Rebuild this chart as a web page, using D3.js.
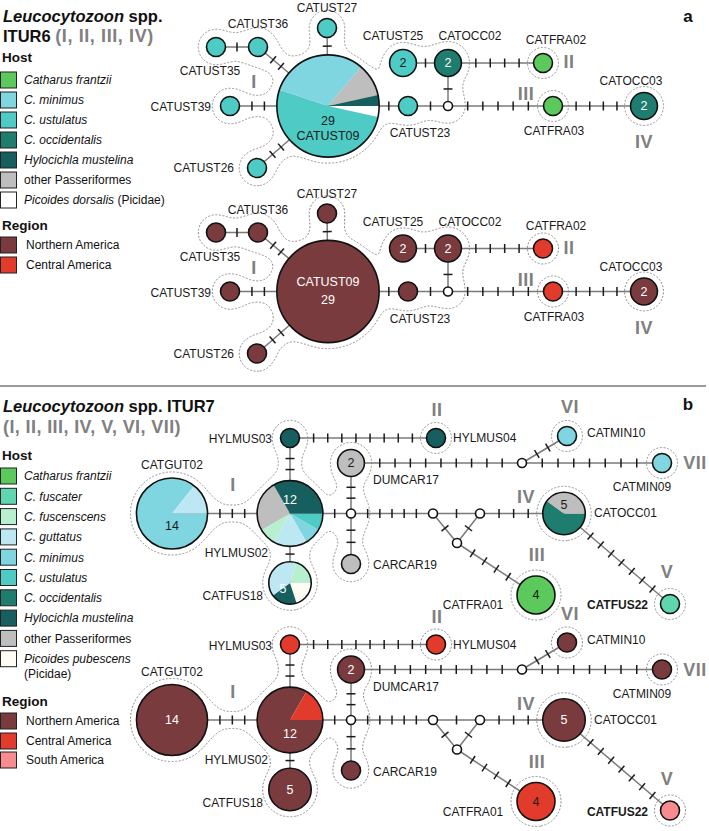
<!DOCTYPE html>
<html><head><meta charset="utf-8">
<script src="https://cdn.jsdelivr.net/npm/d3@7"></script>
<style>body{margin:0;background:#fff}svg{display:block}</style>
</head><body>
<svg id="chart" width="709" height="831"></svg>
<script>
// ================= DATA =================
const hostLegendA = ["Catharus frantzii","C. minimus","C. ustulatus","C. occidentalis","Hylocichla mustelina","other Passeriformes","Picoides dorsalis"];
const hostLegendB = ["Catharus frantzii","C. fuscater","C. fuscenscens","C. guttatus","C. minimus","C. ustulatus","C. occidentalis","Hylocichla mustelina","other Passeriformes","Picoides pubescens"];
const regionLegendA = ["Northern America","Central America"];
const regionLegendB = ["Northern America","Central America","South America"];

// ITUR6 haplotypes: sample count, host composition, region composition
const haplotypesITUR6 = [
  {id:"CATUST09", n:29, host:[["Picoides dorsalis",1],["C. ustulatus",15],["C. minimus",9],["other Passeriformes",3],["Hylocichla mustelina",1]], region:[["Northern America",29]]},
  {id:"CATUST27", n:1, host:[["C. ustulatus",1]], region:[["Northern America",1]]},
  {id:"CATUST36", n:1, host:[["C. ustulatus",1]], region:[["Northern America",1]]},
  {id:"CATUST35", n:1, host:[["C. ustulatus",1]], region:[["Northern America",1]]},
  {id:"CATUST39", n:1, host:[["C. ustulatus",1]], region:[["Northern America",1]]},
  {id:"CATUST26", n:1, host:[["C. ustulatus",1]], region:[["Northern America",1]]},
  {id:"CATUST23", n:1, host:[["C. ustulatus",1]], region:[["Northern America",1]]},
  {id:"CATUST25", n:2, host:[["C. ustulatus",2]], region:[["Northern America",2]]},
  {id:"CATOCC02", n:2, host:[["C. occidentalis",2]], region:[["Northern America",2]]},
  {id:"CATFRA02", n:1, host:[["Catharus frantzii",1]], region:[["Central America",1]]},
  {id:"CATFRA03", n:1, host:[["Catharus frantzii",1]], region:[["Central America",1]]},
  {id:"CATOCC03", n:2, host:[["C. occidentalis",2]], region:[["Northern America",2]]},
  {id:"mv6a", n:0, host:[], region:[]}
];
// edges: [from, to, number of mutation steps]
const edgesITUR6 = [["CATUST35","CATUST36",1],["CATUST36","CATUST09",2],["CATUST27","CATUST09",1],["CATUST39","CATUST09",2],["CATUST26","CATUST09",2],["CATUST09","CATUST23",1],["CATUST23","mv6a",1],["mv6a","CATOCC02",1],["CATUST25","CATOCC02",1],["CATOCC02","CATFRA02",4],["mv6a","CATFRA03",5],["CATFRA03","CATOCC03",4]];
const lineagesITUR6 = [["I",["CATUST35","CATUST36","CATUST27","CATUST09","CATUST39","CATUST26","CATUST23","mv6a","CATUST25","CATOCC02"]],["II",["CATFRA02"]],["III",["CATFRA03"]],["IV",["CATOCC03"]]];

const haplotypesITUR7 = [
  {id:"CATGUT02", n:14, host:[["C. minimus",12],["C. guttatus",2]], region:[["Northern America",14]]},
  {id:"HYLMUS02", n:12, host:[["C. ustulatus",1],["C. minimus",1],["C. guttatus",2],["C. fuscenscens",1],["other Passeriformes",3],["Hylocichla mustelina",4]], region:[["Northern America",10],["Central America",2]]},
  {id:"HYLMUS03", n:1, host:[["Hylocichla mustelina",1]], region:[["Central America",1]]},
  {id:"HYLMUS04", n:1, host:[["Hylocichla mustelina",1]], region:[["Central America",1]]},
  {id:"CATFUS18", n:5, host:[["Picoides pubescens",1],["Hylocichla mustelina",1],["C. guttatus",2],["C. fuscenscens",1]], region:[["Northern America",5]]},
  {id:"DUMCAR17", n:2, host:[["other Passeriformes",2]], region:[["Northern America",2]]},
  {id:"CARCAR19", n:1, host:[["other Passeriformes",1]], region:[["Northern America",1]]},
  {id:"CATMIN10", n:1, host:[["C. minimus",1]], region:[["Northern America",1]]},
  {id:"CATMIN09", n:1, host:[["C. minimus",1]], region:[["Northern America",1]]},
  {id:"CATOCC01", n:5, host:[["C. occidentalis",3],["other Passeriformes",2]], region:[["Northern America",5]]},
  {id:"CATFRA01", n:4, host:[["Catharus frantzii",4]], region:[["Central America",4]]},
  {id:"CATFUS22", n:1, host:[["C. fuscater",1]], region:[["South America",1]]},
  {id:"mv7a", n:0, host:[], region:[]},
  {id:"mv7b", n:0, host:[], region:[]},
  {id:"mv7c", n:0, host:[], region:[]},
  {id:"mv7d", n:0, host:[], region:[]},
  {id:"mv7e", n:0, host:[], region:[]}
];
const edgesITUR7 = [["CATGUT02","HYLMUS02",3],["HYLMUS03","HYLMUS02",2],["HYLMUS03","HYLMUS04",8],["HYLMUS02","CATFUS18",1],["HYLMUS02","mv7a",1],["DUMCAR17","mv7a",2],["mv7a","CARCAR19",2],["DUMCAR17","mv7b",9],["mv7b","CATMIN10",2],["mv7b","CATMIN09",7],["mv7a","mv7c",5],["mv7c","mv7d",1],["mv7c","mv7e",1],["mv7d","mv7e",1],["mv7d","CATOCC01",3],["mv7e","CATFRA01",4],["CATOCC01","CATFUS22",7]];
const lineagesITUR7 = [["I",["CATGUT02","HYLMUS02","HYLMUS03","CATFUS18","DUMCAR17","mv7a","CARCAR19"]],["II",["HYLMUS04"]],["III",["CATFRA01"]],["IV",["CATOCC01"]],["V",["CATFUS22"]],["VI",["CATMIN10"]],["VII",["CATMIN09"]]];

// ================= LAYOUT (positions, kept apart from data) =================
const layoutITUR6 = {CATUST09:[328,106],CATUST27:[327,28],CATUST36:[258,47],CATUST35:[216,47],CATUST39:[230,106],CATUST26:[257,168],CATUST23:[408,106],mv6a:[448,106],CATUST25:[403,63],CATOCC02:[448,63],CATFRA02:[543,63],CATFRA03:[553,106],CATOCC03:[644,106]};
const labelPosITUR6 = {CATUST27:[327,12,"middle"],CATUST36:[258,28,"middle"],CATUST35:[210,75,"middle"],CATUST39:[211,111,"end"],CATUST26:[234,172,"end"],CATUST25:[393,40,"middle"],CATOCC02:[470,40,"middle"],CATFRA02:[556,44,"middle"],CATOCC03:[631,85,"middle"],CATFRA03:[554,135,"middle"],CATUST23:[420,137,"middle"]};
const numeralPosITUR6 = {I:[254,88],II:[569,68],III:[526,100],IV:[644,148]};
const countOffITUR6 = {host:{CATUST09:[0,15]},region:{CATUST09:[0,8]}};
const innerNameITUR6 = {host:{CATUST09:30},region:{CATUST09:-10}};

const layoutITUR7 = {CATGUT02:[172,513.5],HYLMUS02:[290,513.5],HYLMUS03:[290,438],HYLMUS04:[436,438],CATFUS18:[290,583],DUMCAR17:[351,463],mv7a:[351,513.5],CARCAR19:[351,564],mv7b:[522,463],CATMIN10:[567,436],CATMIN09:[662,463],mv7c:[433,513.5],mv7d:[480,513.5],mv7e:[457,543],CATOCC01:[564,513.5],CATFRA01:[536,595],CATFUS22:[670,604]};
const labelPosITUR7 = {CATGUT02:[172,469,"middle"],HYLMUS03:[272,443,"end"],HYLMUS04:[453,442,"start"],HYLMUS02:[268,557,"end"],CATFUS18:[263,600,"end"],DUMCAR17:[373,484,"start"],CARCAR19:[373,569,"start"],CATMIN10:[587,437,"start"],CATMIN09:[642,491,"middle"],CATOCC01:[594,517,"start"],CATFRA01:[473,609,"middle"],CATFUS22:[648,609,"end","bold"]};
const numeralPosITUR7 = {I:[233,491],II:[437,416],VI:[570,413],VII:[695,469],IV:[526,503],III:[537,561],V:[667,578]};
const countOffITUR7 = {host:{CATGUT02:[0,12],HYLMUS02:[0,-14],CATFUS18:[-7,6],CATOCC01:[0,-9]},region:{HYLMUS02:[0,14]}};

// ================= STYLE =================
const FONT = "'Liberation Sans', Arial, Helvetica, sans-serif";
const hostColor = d3.scaleOrdinal()
  .domain(["Catharus frantzii","C. fuscater","C. fuscenscens","C. guttatus","C. minimus","C. ustulatus","C. occidentalis","Hylocichla mustelina","other Passeriformes","Picoides dorsalis","Picoides pubescens"])
  .range(["#5cc95c","#5fd6ae","#b7efcf","#bde8f3","#7fd5e0","#4ecbc4","#1f7d70","#175f5f","#bebebe","#ffffff","#fffdf3"]);
const regionColor = d3.scaleOrdinal().domain(regionLegendB).range(["#7a3b3e","#e33b2b","#f88b8f"]);
const rScale = d3.scaleSqrt().domain([0,1]).range([0,9.5]);
const MV_R = 4.5;

const svg = d3.select("#chart").style("font-family", FONT);

// ================= HELPERS =================
function lum(c){ const r=d3.rgb(c); const f=v=>{v/=255;return v<=0.03928?v/12.92:Math.pow((v+0.055)/1.055,2.4);}; return 0.2126*f(r.r)+0.7152*f(r.g)+0.0722*f(r.b); }
function smin(a,b,k){ if(!isFinite(a)) return b; const h=Math.max(k-Math.abs(a-b),0)/k; return Math.min(a,b)-h*h*k*0.25; }
function segDist(px,py,ax,ay,bx,by){ const dx=bx-ax,dy=by-ay; let t=((px-ax)*dx+(py-ay)*dy)/(dx*dx+dy*dy); t=Math.max(0,Math.min(1,t)); const x=ax+t*dx-px,y=ay+t*dy-py; return Math.sqrt(x*x+y*y); }

function drawHull(g, members, edges, pos, rad){
  const set = new Set(members);
  const nodePad = 6, edgePad = 7.5, k = 22, m = 40;
  const xs = members.map(id=>pos[id][0]), ys = members.map(id=>pos[id][1]);
  const rmax = d3.max(members, id=>rad(id));
  const x0 = Math.floor(d3.min(xs)-rmax-m), y0 = Math.floor(d3.min(ys)-rmax-m);
  const x1 = Math.ceil(d3.max(xs)+rmax+m), y1 = Math.ceil(d3.max(ys)+rmax+m);
  const w = x1-x0, h = y1-y0;
  const es = edges.filter(e=>set.has(e[0])&&set.has(e[1]));
  const vals = new Float64Array(w*h);
  for(let j=0;j<h;j++) for(let i=0;i<w;i++){
    const px=x0+i+0.5, py=y0+j+0.5; let d=Infinity;
    for(const id of members){ const [cx,cy]=pos[id]; d=smin(d, Math.hypot(px-cx,py-cy)-(rad(id)+nodePad), k); }
    for(const e of es){ const a=pos[e[0]], b=pos[e[1]]; d=smin(d, segDist(px,py,a[0],a[1],b[0],b[1])-edgePad, k); }
    vals[j*w+i] = -d;
  }
  const c = d3.contours().size([w,h]).thresholds([0])(vals);
  g.append("path").attr("d", d3.geoPath()(c[0])).attr("transform",`translate(${x0},${y0})`)
    .attr("fill","none").attr("stroke","#8c8c8c").attr("stroke-width",1).attr("stroke-dasharray","2,1.6");
}

function drawNetwork(g, haps, edges, lineages, pos, labels, numerals, mode, countOff, innerName){
  const byId = new Map(haps.map(d=>[d.id,d]));
  const rad = id => byId.get(id).n ? rScale(byId.get(id).n) : MV_R;
  lineages.forEach(l=>drawHull(g, l[1], edges, pos, rad));
  const eg = g.append("g");
  edges.forEach(([a,b,steps])=>{
    const [ax,ay]=pos[a], [bx,by]=pos[b];
    eg.append("line").attr("x1",ax).attr("y1",ay).attr("x2",bx).attr("y2",by).attr("stroke","#7a7a7a").attr("stroke-width",1.5);
    const L=Math.hypot(bx-ax,by-ay), ux=(bx-ax)/L, uy=(by-ay)/L, s0=rad(a), s1=L-rad(b);
    for(let i=1;i<=steps;i++){
      const s=s0+i*(s1-s0)/(steps+1), cx=ax+ux*s, cy=ay+uy*s, hl=4.5;
      eg.append("line").attr("x1",cx-uy*hl).attr("y1",cy+ux*hl).attr("x2",cx+uy*hl).attr("y2",cy-ux*hl).attr("stroke","#1a1a1a").attr("stroke-width",1.5);
    }
  });
  const color = mode==="host" ? hostColor : regionColor;
  const pie = d3.pie().value(d=>d[1]).sort(null).startAngle(Math.PI/2).endAngle(Math.PI/2+2*Math.PI);
  const ng = g.append("g");
  haps.forEach(h=>{
    const [cx,cy]=pos[h.id], r=rad(h.id);
    const gg = ng.append("g").attr("transform",`translate(${cx},${cy})`);
    if(!h.n){ gg.append("circle").attr("r",r).attr("fill","#fff").attr("stroke","#111").attr("stroke-width",1.6); return; }
    const comp = h[mode], arcs = pie(comp), arc = d3.arc().innerRadius(0).outerRadius(r);
    gg.selectAll("path").data(arcs).join("path").attr("d",arc).attr("fill",d=>color(d.data[0]));
    gg.append("circle").attr("r",r).attr("fill","none").attr("stroke","#111").attr("stroke-width",1.6);
    const fillAt = (dx,dy)=>{ let a=Math.atan2(dx,-dy); while(a<Math.PI/2) a+=2*Math.PI; const s=arcs.find(d=>a>=d.startAngle&&a<d.endAngle)||arcs[arcs.length-1]; return color(s.data[0]); };
    const txtCol = (dx,dy)=> lum(fillAt(dx||0.001,dy))>0.175 ? "#1a1a1a" : "#ffffff";
    if(h.n>1){
      const [dx,dy] = (countOff[mode]&&countOff[mode][h.id])||[0,0];
      gg.append("text").attr("x",dx).attr("y",dy).attr("dy","0.35em").attr("text-anchor","middle").attr("font-size",12.5).attr("fill",txtCol(dx,dy)).text(h.n);
    }
    if(innerName && innerName[mode] && innerName[mode][h.id]!==undefined){
      const dy = innerName[mode][h.id];
      gg.append("text").attr("y",dy).attr("dy","0.35em").attr("text-anchor","middle").attr("font-size",12.5).attr("fill",txtCol(0,dy)).text(h.id);
    }
  });
  Object.entries(labels).forEach(([id,[x,y,anchor,w]])=>{
    g.append("text").attr("x",x).attr("y",y).attr("text-anchor",anchor).attr("font-size",12).attr("font-weight",w||"normal").attr("fill","#1a1a1a").text(id);
  });
  Object.entries(numerals).forEach(([t,[x,y]])=>{
    g.append("text").attr("x",x).attr("y",y).attr("text-anchor","middle").attr("font-size",18).attr("font-weight","bold").attr("letter-spacing",0.5).attr("fill","#808080").text(t);
  });
}

const italicCats = n => !(n.startsWith("other")||regionLegendB.includes(n));
function drawLegend(g, title, yTitle, cats, colorFn, rows, textX){
  g.append("text").attr("x",2).attr("y",yTitle+4.8).attr("font-size",13.5).attr("font-weight","bold").attr("fill","#111").text(title);
  cats.forEach((c,i)=>{
    const y = rows[i];
    g.append("rect").attr("x",0.5).attr("y",y-8).attr("width",16).attr("height",16).attr("fill",colorFn(c)).attr("stroke","#222").attr("stroke-width",1);
    const t = g.append("text").attr("x",textX).attr("y",y+4.3).attr("font-size",12).attr("fill","#111");
    if(c==="Picoides dorsalis"){ t.append("tspan").attr("font-style","italic").text(c); t.append("tspan").text(" (Picidae)"); }
    else if(c==="Picoides pubescens"){ t.append("tspan").attr("font-style","italic").text(c); g.append("text").attr("x",textX).attr("y",y+4.3+15).attr("font-size",12).attr("fill","#111").text("(Picidae)"); }
    else t.attr("font-style", italicCats(c)?"italic":"normal").text(c);
  });
}

// ================= PANEL A =================
const gA = svg.append("g");
const tA1 = gA.append("text").attr("x",3).attr("y",22).attr("font-size",16.5).attr("font-weight","bold").attr("fill","#111");
tA1.append("tspan").attr("font-style","italic").text("Leucocytozoon");
tA1.append("tspan").text(" spp.");
const tA2 = gA.append("text").attr("x",3).attr("y",42).attr("font-weight","bold").attr("fill","#111");
tA2.append("tspan").attr("font-size",16.5).text("ITUR6 ");
tA2.append("tspan").attr("font-size",18).attr("letter-spacing",0.6).attr("fill","#808080").text("(I, II, III, IV)");
drawLegend(gA,"Host",57,hostLegendA,hostColor,d3.range(hostLegendA.length).map(i=>80+20*i),24);
drawLegend(gA,"Region",225,regionLegendA,regionColor,[245,265],26);
gA.append("text").attr("x",688).attr("y",22).attr("text-anchor","middle").attr("font-size",17).attr("font-weight","bold").attr("fill","#111").text("a");
drawNetwork(gA.append("g"), haplotypesITUR6, edgesITUR6, lineagesITUR6, layoutITUR6, labelPosITUR6, numeralPosITUR6, "host", countOffITUR6, innerNameITUR6);
drawNetwork(gA.append("g").attr("transform","translate(0,185.5)"), haplotypesITUR6, edgesITUR6, lineagesITUR6, layoutITUR6, labelPosITUR6, numeralPosITUR6, "region", countOffITUR6, innerNameITUR6);

svg.append("line").attr("x1",0).attr("x2",706).attr("y1",386).attr("y2",386).attr("stroke","#9a9a9a").attr("stroke-width",2);

// ================= PANEL B =================
const gB = svg.append("g");
const tB1 = gB.append("text").attr("x",3).attr("y",412).attr("font-size",16.5).attr("font-weight","bold").attr("fill","#111");
tB1.append("tspan").attr("font-style","italic").text("Leucocytozoon");
tB1.append("tspan").text(" spp. ITUR7");
gB.append("text").attr("x",3).attr("y",433).attr("font-size",18).attr("font-weight","bold").attr("letter-spacing",0.4).attr("fill","#808080").text("(I, II, III, IV, V, VI, VII)");
drawLegend(gB,"Host",455,hostLegendB,hostColor,d3.range(hostLegendB.length).map(i=>476+20.3*i),24);
drawLegend(gB,"Region",701,regionLegendB,regionColor,[721,741,760],26);
gB.append("text").attr("x",688).attr("y",410).attr("text-anchor","middle").attr("font-size",17).attr("font-weight","bold").attr("fill","#111").text("b");
drawNetwork(gB.append("g"), haplotypesITUR7, edgesITUR7, lineagesITUR7, layoutITUR7, labelPosITUR7, numeralPosITUR7, "host", countOffITUR7, null);
drawNetwork(gB.append("g").attr("transform","translate(0,206.5)"), haplotypesITUR7, edgesITUR7, lineagesITUR7, layoutITUR7, labelPosITUR7, numeralPosITUR7, "region", countOffITUR7, null);
</script>
</body></html>
